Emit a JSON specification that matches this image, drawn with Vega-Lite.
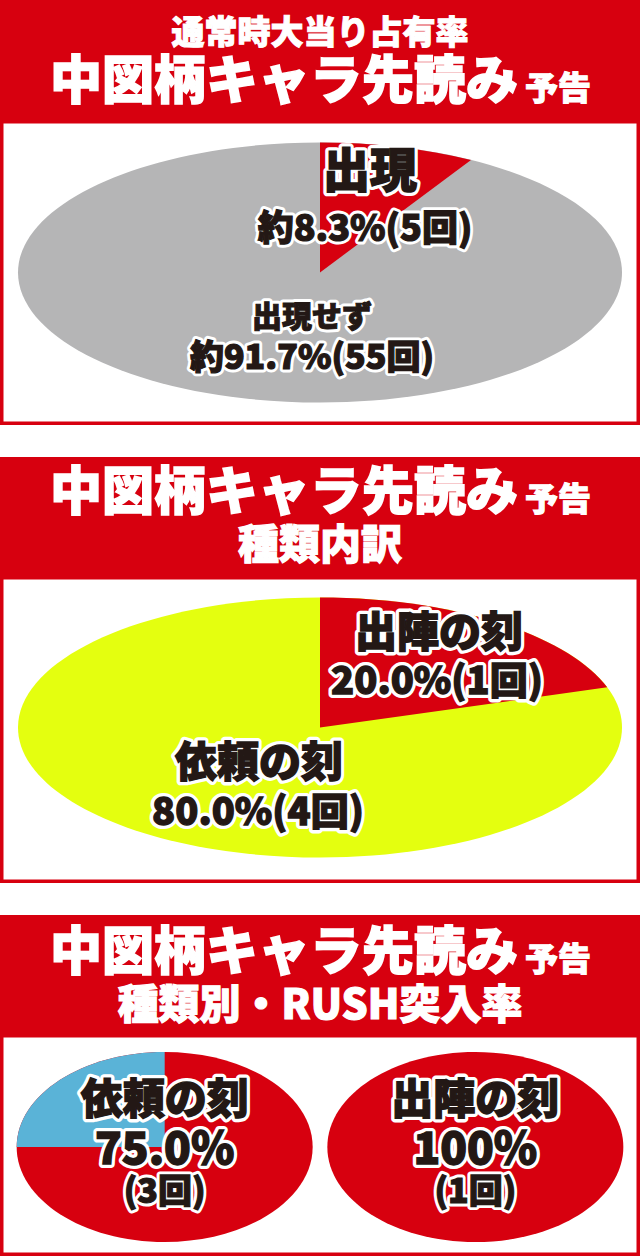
{
  "$schema": "https://vega.github.io/schema/vega-lite/v6.json",
  "padding": 0,
  "background": "white",
  "bounds": "flush",
  "spacing": 0,
  "resolve": {"scale": {"color": "independent", "shape": "independent", "x": "independent"}},
  "config": {"view": {"stroke": null}, "font": "Noto Sans CJK JP"},
  "datasets": {
    "titles": [
      {"panel": 1, "part": "sub", "text": "通常時大当り占有率"},
      {"panel": 1, "part": "main", "text": "中図柄キャラ先読み"},
      {"panel": 1, "part": "suffix", "text": "予告"},
      {"panel": 2, "part": "main", "text": "中図柄キャラ先読み"},
      {"panel": 2, "part": "suffix", "text": "予告"},
      {"panel": 2, "part": "sub", "text": "種類内訳"},
      {"panel": 3, "part": "main", "text": "中図柄キャラ先読み"},
      {"panel": 3, "part": "suffix", "text": "予告"},
      {"panel": 3, "part": "sub", "text": "種類別・RUSH突入率"}
    ],
    "occupancy": [
      {"item": "出現せず", "pct": 91.7, "count": 55, "label": "約91.7%(55回)"},
      {"item": "出現", "pct": 8.3, "count": 5, "label": "約8.3%(5回)"}
    ],
    "breakdown": [
      {"item": "依頼の刻", "pct": 80.0, "count": 4, "label": "80.0%(4回)"},
      {"item": "出陣の刻", "pct": 20.0, "count": 1, "label": "20.0%(1回)"}
    ],
    "rush": [
      {"type": "依頼の刻", "result": "突入", "pct": 75.0, "count": 3, "rate": "75.0%", "times": "(3回)"},
      {"type": "依頼の刻", "result": "非突入", "pct": 25.0, "count": 1},
      {"type": "出陣の刻", "result": "突入", "pct": 100, "count": 1, "rate": "100%", "times": "(1回)"}
    ]
  },
  "vconcat": [
    {
      "width": 640, "height": 120,
      "view": {"fill": "#d7000f", "stroke": null},
      "data": {"name": "titles"},
      "transform": [{"filter": "datum.panel == 1"}],
      "layer": [
        {"transform": [{"filter": "datum.part == 'sub'"}],
         "mark": {"type": "text", "dy": -26, "fontSize": 33, "fontWeight": 900, "fill": "white", "stroke": "white", "strokeWidth": 1},
         "encoding": {"text": {"field": "text"}}},
        {"transform": [{"filter": "datum.part == 'main'"}],
         "mark": {"type": "text", "dx": -36, "dy": 23, "fontSize": 52, "fontWeight": 900, "fill": "white", "stroke": "white", "strokeWidth": 1.5},
         "encoding": {"text": {"field": "text"}}},
        {"transform": [{"filter": "datum.part == 'suffix'"}],
         "mark": {"type": "text", "dx": 238, "dy": 30, "fontSize": 33, "fontWeight": 900, "fill": "white", "stroke": "white", "strokeWidth": 1},
         "encoding": {"text": {"field": "text"}}}
      ]
    },
    {
      "width": 640, "height": 305,
      "data": {"name": "occupancy"},
      "layer": [
        {"data": {"values": [{"frame": "box"}]},
         "mark": {"type": "rect", "fill": "white", "stroke": "#d7000f", "strokeWidth": 7, "clip": true}},
        {"mark": {"type": "point", "filled": true, "opacity": 1, "strokeWidth": 0},
         "encoding": {
           "shape": {"field": "item", "type": "nominal", "legend": null,
             "scale": {"domain": ["出現せず", "出現"],
               "range": ["M-1,0 A1,0.4305 0 1,1 1,0 A1,0.4305 0 1,1 -1,0 Z", "M0,0 L0,-0.4305 A1,0.4305 0 0,1 0.5,-0.3728 Z"]}},
           "color": {"field": "item", "type": "nominal", "legend": null,
             "scale": {"domain": ["出現せず", "出現"], "range": ["#b5b5b6", "#d7000f"]}},
           "size": {"value": 364816},
           "order": {"field": "pct", "type": "quantitative", "sort": "descending"}
         }},
        {"transform": [{"filter": "datum.item == '出現'"}],
         "layer": [
           {"mark": {"type": "text", "dx": 50, "dy": -100, "fontSize": 47, "fontWeight": 900, "fill": "white", "stroke": "white", "strokeWidth": 8, "strokeJoin": "round"},
            "encoding": {"text": {"field": "item"}}},
           {"mark": {"type": "text", "dx": 50, "dy": -100, "fontSize": 47, "fontWeight": 900, "fill": "#231815", "stroke": "#231815", "strokeWidth": 1.5},
            "encoding": {"text": {"field": "item"}}},
           {"mark": {"type": "text", "dx": 45, "dy": -43, "fontSize": 36, "fontWeight": 900, "fill": "white", "stroke": "white", "strokeWidth": 7, "strokeJoin": "round"},
            "encoding": {"text": {"field": "label"}}},
           {"mark": {"type": "text", "dx": 45, "dy": -43, "fontSize": 36, "fontWeight": 900, "fill": "#231815", "stroke": "#231815", "strokeWidth": 1.2},
            "encoding": {"text": {"field": "label"}}}
         ]},
        {"transform": [{"filter": "datum.item == '出現せず'"}],
         "layer": [
           {"mark": {"type": "text", "dx": -8, "dy": 45, "fontSize": 30, "fontWeight": 900, "fill": "white", "stroke": "white", "strokeWidth": 7, "strokeJoin": "round"},
            "encoding": {"text": {"field": "item"}}},
           {"mark": {"type": "text", "dx": -8, "dy": 45, "fontSize": 30, "fontWeight": 900, "fill": "#231815", "stroke": "#231815", "strokeWidth": 1},
            "encoding": {"text": {"field": "item"}}},
           {"mark": {"type": "text", "dx": -8, "dy": 86, "fontSize": 34, "fontWeight": 900, "fill": "white", "stroke": "white", "strokeWidth": 7, "strokeJoin": "round"},
            "encoding": {"text": {"field": "label"}}},
           {"mark": {"type": "text", "dx": -8, "dy": 86, "fontSize": 34, "fontWeight": 900, "fill": "#231815", "stroke": "#231815", "strokeWidth": 1.2},
            "encoding": {"text": {"field": "label"}}}
         ]}
      ]
    },
    {
      "width": 640, "height": 32,
      "data": {"values": [{"frame": "gap"}]},
      "mark": {"type": "rect", "fill": "white"}
    },
    {
      "width": 640, "height": 119,
      "view": {"fill": "#d7000f", "stroke": null},
      "data": {"name": "titles"},
      "transform": [{"filter": "datum.panel == 2"}],
      "layer": [
        {"transform": [{"filter": "datum.part == 'main'"}],
         "mark": {"type": "text", "dx": -36, "dy": -23, "fontSize": 52, "fontWeight": 900, "fill": "white", "stroke": "white", "strokeWidth": 1.5},
         "encoding": {"text": {"field": "text"}}},
        {"transform": [{"filter": "datum.part == 'suffix'"}],
         "mark": {"type": "text", "dx": 238, "dy": -16, "fontSize": 33, "fontWeight": 900, "fill": "white", "stroke": "white", "strokeWidth": 1},
         "encoding": {"text": {"field": "text"}}},
        {"transform": [{"filter": "datum.part == 'sub'"}],
         "mark": {"type": "text", "dy": 30, "fontSize": 41, "fontWeight": 900, "fill": "white", "stroke": "white", "strokeWidth": 1.2},
         "encoding": {"text": {"field": "text"}}}
      ]
    },
    {
      "width": 640, "height": 307,
      "data": {"name": "breakdown"},
      "layer": [
        {"data": {"values": [{"frame": "box"}]},
         "mark": {"type": "rect", "fill": "white", "stroke": "#d7000f", "strokeWidth": 7, "clip": true}},
        {"mark": {"type": "point", "filled": true, "opacity": 1, "strokeWidth": 0, "yOffset": -2},
         "encoding": {
           "shape": {"field": "item", "type": "nominal", "legend": null,
             "scale": {"domain": ["依頼の刻", "出陣の刻"],
               "range": ["M-1,0 A1,0.4305 0 1,1 1,0 A1,0.4305 0 1,1 -1,0 Z", "M0,0 L0,-0.4305 A1,0.4305 0 0,1 0.9511,-0.133 Z"]}},
           "color": {"field": "item", "type": "nominal", "legend": null,
             "scale": {"domain": ["依頼の刻", "出陣の刻"], "range": ["#e4ff0f", "#d7000f"]}},
           "size": {"value": 364816},
           "order": {"field": "pct", "type": "quantitative", "sort": "descending"}
         }},
        {"transform": [{"filter": "datum.item == '出陣の刻'"}],
         "layer": [
           {"mark": {"type": "text", "dx": 119, "dy": -96, "fontSize": 42, "fontWeight": 900, "fill": "white", "stroke": "white", "strokeWidth": 8, "strokeJoin": "round"},
            "encoding": {"text": {"field": "item"}}},
           {"mark": {"type": "text", "dx": 119, "dy": -96, "fontSize": 42, "fontWeight": 900, "fill": "#231815", "stroke": "#231815", "strokeWidth": 1.4},
            "encoding": {"text": {"field": "item"}}},
           {"mark": {"type": "text", "dx": 117, "dy": -47, "fontSize": 38, "fontWeight": 900, "fill": "white", "stroke": "white", "strokeWidth": 8, "strokeJoin": "round"},
            "encoding": {"text": {"field": "label"}}},
           {"mark": {"type": "text", "dx": 117, "dy": -47, "fontSize": 38, "fontWeight": 900, "fill": "#231815", "stroke": "#231815", "strokeWidth": 1.3},
            "encoding": {"text": {"field": "label"}}}
         ]},
        {"transform": [{"filter": "datum.item == '依頼の刻'"}],
         "layer": [
           {"mark": {"type": "text", "dx": -61, "dy": 34, "fontSize": 42, "fontWeight": 900, "fill": "white", "stroke": "white", "strokeWidth": 8, "strokeJoin": "round"},
            "encoding": {"text": {"field": "item"}}},
           {"mark": {"type": "text", "dx": -61, "dy": 34, "fontSize": 42, "fontWeight": 900, "fill": "#231815", "stroke": "#231815", "strokeWidth": 1.4},
            "encoding": {"text": {"field": "item"}}},
           {"mark": {"type": "text", "dx": -62, "dy": 84, "fontSize": 38, "fontWeight": 900, "fill": "white", "stroke": "white", "strokeWidth": 8, "strokeJoin": "round"},
            "encoding": {"text": {"field": "label"}}},
           {"mark": {"type": "text", "dx": -62, "dy": 84, "fontSize": 38, "fontWeight": 900, "fill": "#231815", "stroke": "#231815", "strokeWidth": 1.3},
            "encoding": {"text": {"field": "label"}}}
         ]}
      ]
    },
    {
      "width": 640, "height": 32,
      "data": {"values": [{"frame": "gap"}]},
      "mark": {"type": "rect", "fill": "white"}
    },
    {
      "width": 640, "height": 119,
      "view": {"fill": "#d7000f", "stroke": null},
      "data": {"name": "titles"},
      "transform": [{"filter": "datum.panel == 3"}],
      "layer": [
        {"transform": [{"filter": "datum.part == 'main'"}],
         "mark": {"type": "text", "dx": -36, "dy": -21, "fontSize": 52, "fontWeight": 900, "fill": "white", "stroke": "white", "strokeWidth": 1.5},
         "encoding": {"text": {"field": "text"}}},
        {"transform": [{"filter": "datum.part == 'suffix'"}],
         "mark": {"type": "text", "dx": 238, "dy": -14, "fontSize": 33, "fontWeight": 900, "fill": "white", "stroke": "white", "strokeWidth": 1},
         "encoding": {"text": {"field": "text"}}},
        {"transform": [{"filter": "datum.part == 'sub'"}],
         "mark": {"type": "text", "dy": 32, "fontSize": 41, "fontWeight": 900, "fill": "white", "stroke": "white", "strokeWidth": 1.2},
         "encoding": {"text": {"field": "text"}}}
      ]
    },
    {
      "width": 640, "height": 222,
      "data": {"name": "rush"},
      "layer": [
        {"data": {"values": [{"frame": "box"}]},
         "mark": {"type": "rect", "fill": "white", "stroke": "#d7000f", "strokeWidth": 7, "clip": true}},
        {
          "encoding": {
            "x": {"field": "type", "type": "nominal", "axis": null,
              "scale": {"type": "point", "padding": 0.53, "domain": ["依頼の刻", "出陣の刻"]}}
          },
          "layer": [
            {"mark": {"type": "point", "filled": true, "opacity": 1, "strokeWidth": 0, "yOffset": 2},
             "encoding": {
               "shape": {"field": "result", "type": "nominal", "legend": null,
                 "scale": {"domain": ["突入", "非突入"],
                   "range": ["M-1,0 A1,0.642 0 1,1 1,0 A1,0.642 0 1,1 -1,0 Z", "M0,0 L-1,0 A1,0.642 0 0,1 0,-0.642 Z"]}},
               "color": {"field": "result", "type": "nominal", "legend": null,
                 "scale": {"domain": ["突入", "非突入"], "range": ["#d7000f", "#5ab3d7"]}},
               "size": {"value": 87616},
               "order": {"field": "pct", "type": "quantitative", "sort": "descending"}
             }},
            {"transform": [{"filter": "datum.result == '突入'"}],
             "layer": [
               {"mark": {"type": "text", "dy": -44, "fontSize": 42, "fontWeight": 900, "fill": "white", "stroke": "white", "strokeWidth": 8, "strokeJoin": "round"},
                "encoding": {"text": {"field": "type"}}},
               {"mark": {"type": "text", "dy": -44, "fontSize": 42, "fontWeight": 900, "fill": "#231815", "stroke": "#231815", "strokeWidth": 1.4},
                "encoding": {"text": {"field": "type"}}},
               {"mark": {"type": "text", "dy": 6, "fontSize": 44, "fontWeight": 900, "fill": "white", "stroke": "white", "strokeWidth": 8, "strokeJoin": "round"},
                "encoding": {"text": {"field": "rate"}}},
               {"mark": {"type": "text", "dy": 6, "fontSize": 44, "fontWeight": 900, "fill": "#231815", "stroke": "#231815", "strokeWidth": 1.4},
                "encoding": {"text": {"field": "rate"}}},
               {"mark": {"type": "text", "dy": 48, "fontSize": 34, "fontWeight": 900, "fill": "white", "stroke": "white", "strokeWidth": 7, "strokeJoin": "round"},
                "encoding": {"text": {"field": "times"}}},
               {"mark": {"type": "text", "dy": 48, "fontSize": 34, "fontWeight": 900, "fill": "#231815", "stroke": "#231815", "strokeWidth": 1.2},
                "encoding": {"text": {"field": "times"}}}
             ]}
          ]
        }
      ]
    }
  ]
}
